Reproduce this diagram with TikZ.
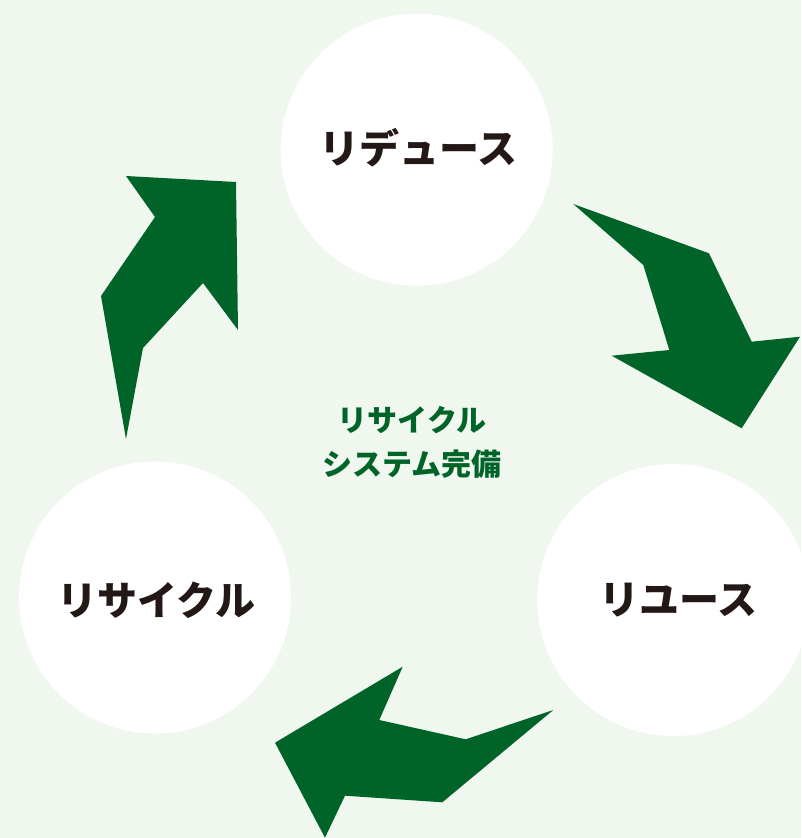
\documentclass[tikz,border=0pt]{standalone}
\usepackage{fontspec}
\newfontfamily\cjk{Noto Sans CJK JP}
\definecolor{bg}{HTML}{EFF7EF}
\definecolor{arrowgreen}{HTML}{006428}
\definecolor{txt}{HTML}{231815}
\tikzset{
  cyclecircle/.style={circle, fill=white, minimum size=272pt, inner sep=0pt},
  biglabel/.style={font=\cjk\bfseries\fontsize{40}{44}\selectfont, text=txt},
  centerlabel/.style={font=\cjk\bfseries\fontsize{30}{44}\selectfont, text=arrowgreen, align=center},
  bigarrow/.style={fill=arrowgreen}
}
\begin{document}
\begin{tikzpicture}[x=1pt,y=-1pt]
\useasboundingbox (0,0) rectangle (801,838);
\clip (0,0) rectangle (801,838);
\fill[bg] (0,0) rectangle (801,838);
% circles
\node[cyclecircle] (reduce) at (416.7,149.7) {};
\node[cyclecircle] (reuse) at (673.3,600) {};
\node[cyclecircle] (recycle) at (155,597.5) {};
% labels
\node[biglabel] (reduceL) at (418,148) {リデュース};
\node[biglabel] (reuseL) at (678,600) {リユース};
\node[biglabel] (recycleL) at (156.5,600) {リサイクル};
\node[centerlabel] (center) at (412,442) {リサイクル\\システム完備};
% arrows
\fill[bigarrow] (126,176) -- (236,182) -- (238,330) -- (203,283) -- (143,348) -- (126,439) -- (101,296) -- (155,217) -- cycle;
\fill[bigarrow] (573.3,204) -- (709,253.3) -- (751.7,341.7) -- (800,336.7) -- (741.7,428.3) -- (611.7,355.7) -- (669.3,350) -- (643.3,265) -- cycle;
\fill[bigarrow] (553.3,710) -- (465.7,739.3) -- (379.3,720) -- (402.7,666.7) -- (275,742.7) -- (325,837.7) -- (345,795.7) -- (442.3,802.3) -- cycle;
\end{tikzpicture}
\end{document}
